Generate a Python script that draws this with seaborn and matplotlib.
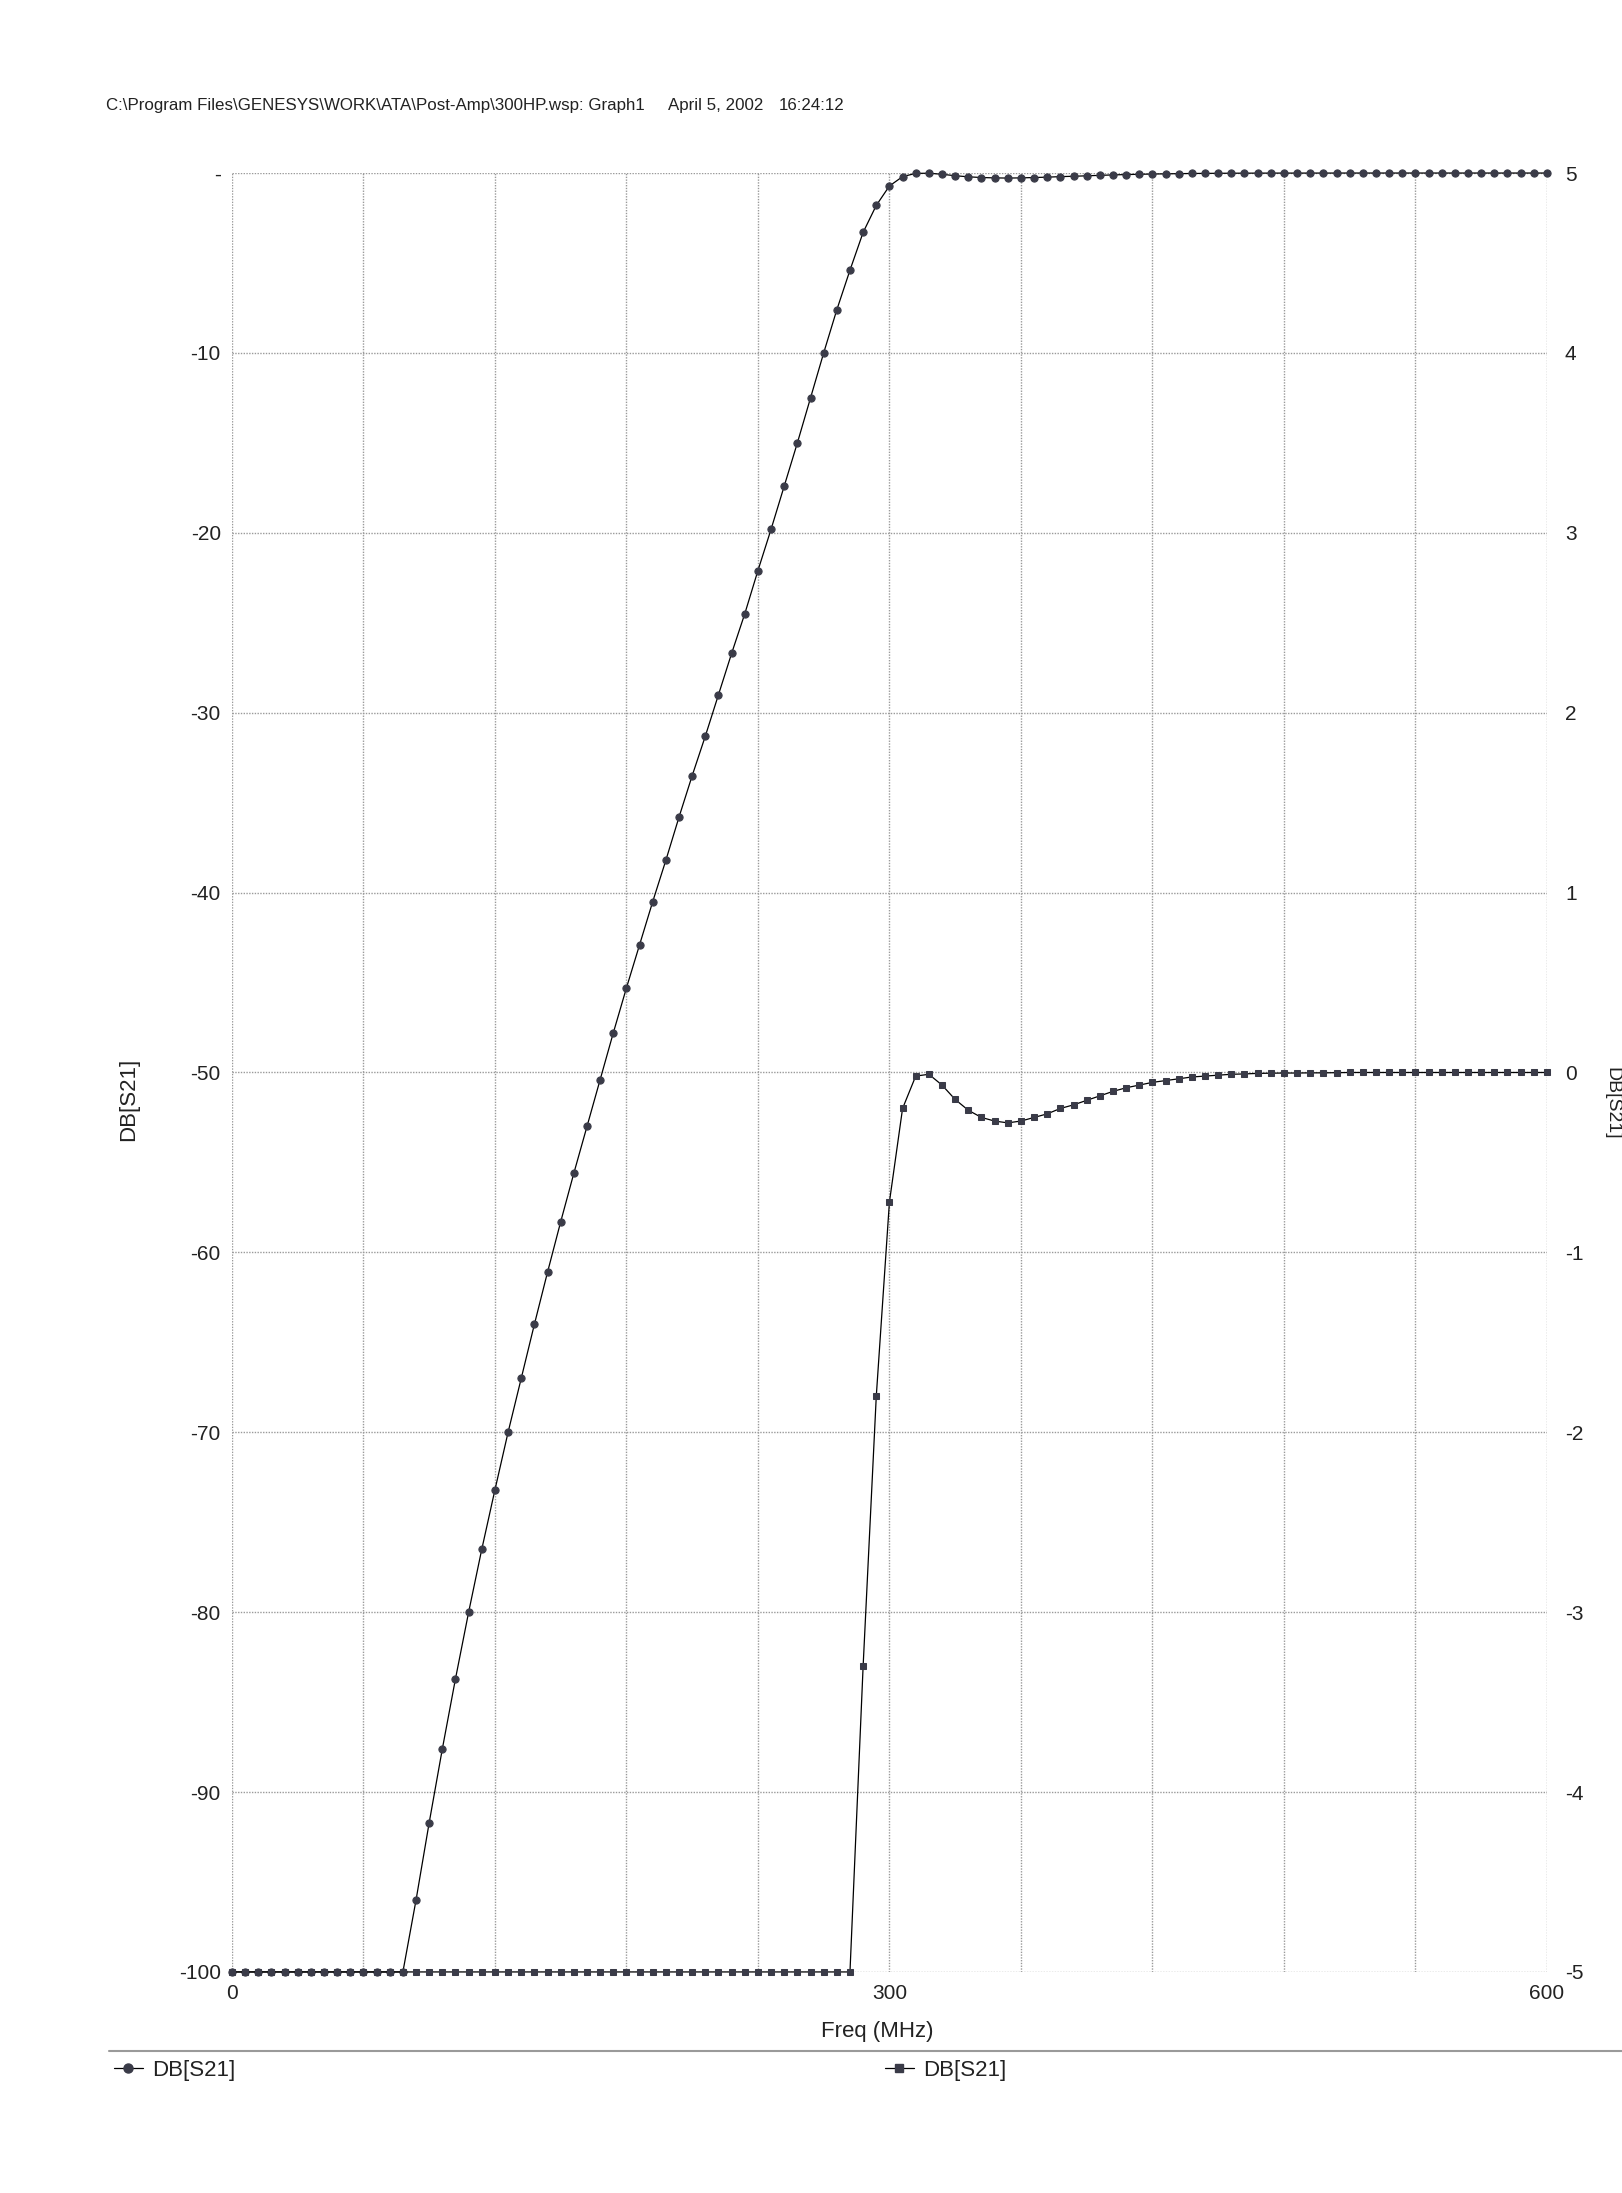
"""
GENESYS graph of the 300 MHz high-pass post-amp: DB[S21] on two scales
"""

import pandas as pd
import seaborn as sns
import matplotlib.pyplot as plt
from matplotlib.lines import Line2D

# sweep points in MHz
freq = list(range(0, 601, 6))

# DB[S21]; the values below -100 dB are estimates
# (they are clipped to the axis edge, as GENESYS does)
s21_db = [
    -300.0, -255.0, -212.0, -187.5, -170.5, -157.5, -146.8, -137.7, -129.8, -122.8,
    -116.5, -110.8, -105.5, -100.6,
    -96.0, -91.7, -87.6, -83.7, -80.0, -76.5, -73.2, -70.0, -67.0, -64.0,
    -61.1, -58.3, -55.6, -53.0, -50.4, -47.8, -45.3, -42.9, -40.5, -38.2,
    -35.8, -33.5, -31.3, -29.0, -26.7, -24.5, -22.1, -19.8, -17.4, -15.0,
    -12.5, -10.0, -7.6, -5.4, -3.3, -1.8, -0.72,
    -0.2, -0.02, -0.01, -0.07, -0.15, -0.21, -0.25, -0.27, -0.28, -0.27,
    -0.25, -0.23, -0.2, -0.18, -0.155, -0.13, -0.105, -0.085, -0.07, -0.055,
    -0.045, -0.035, -0.025, -0.02, -0.015, -0.01, -0.008, -0.005,
    -0.004, -0.003, -0.003, -0.002, -0.002, -0.001, 0.0, 0.0, 0.0, 0.0,
    0.0, 0.0, 0.0, 0.0, 0.0, 0.0, 0.0, 0.0, 0.0, 0.0, 0.0, 0.0,
]

left_ticks = [0, -10, -20, -30, -40, -50, -60, -70, -80, -90, -100]
left_labels = ["-", "-10", "-20", "-30", "-40", "-50", "-60", "-70", "-80", "-90", "-100"]
right_ticks = [5, 4, 3, 2, 1, 0, -1, -2, -3, -4, -5]
x_ticks = list(range(0, 601, 60))
x_labels = ["0", "", "", "", "", "300", "", "", "", "", "600"]

header = r"C:\Program Files\GENESYS\WORK\ATA\Post-Amp\300HP.wsp: Graph1"
header_date = "April 5, 2002"
header_time = "16:24:12"

sns.set_theme(style="white")
plt.rcParams["font.family"] = ["Liberation Sans", "DejaVu Sans"]

df = pd.DataFrame({"freq": freq, "s21": s21_db})
df["left"] = df.s21.clip(-100, 0)
df["right"] = df.s21.clip(-5, 5)

mk = "#3a3b48"
txt = "#222222"
fig = plt.figure(figsize=(16.22, 21.93), dpi=100)
ax = fig.add_axes([0.1430, 0.1008, 0.8107, 0.8203])
ax2 = ax.twinx()

sns.lineplot(
    data=df, x="freq", y="left", ax=ax, estimator=None,
    color="black", lw=0.9, marker="o", markersize=5.2,
    markerfacecolor=mk, markeredgecolor=mk, clip_on=False, zorder=3
)
sns.lineplot(
    data=df, x="freq", y="right", ax=ax2, estimator=None,
    color="black", lw=0.9, marker="s", markersize=4.6,
    markerfacecolor=mk, markeredgecolor=mk, clip_on=False, zorder=3
)

ax.set_xlim(0, 600)
ax.set_ylim(-100, 0)
ax2.set_ylim(-5, 5)

ax.set_xticks(x_ticks)
ax.set_xticklabels(x_labels)
ax.set_yticks(left_ticks)
ax.set_yticklabels(left_labels)
ax2.set_yticks(right_ticks)
ax2.set_yticklabels([str(t) for t in right_ticks])

ax.grid(True, color="#9a9a9a", lw=1.0, linestyle=(0, (1, 1)))
ax2.grid(False)
for a in (ax, ax2):
    for s in a.spines.values():
        s.set_visible(False)

ax.tick_params(axis="both", length=0, labelsize=15, colors=txt)
ax.tick_params(axis="y", pad=8)
ax.tick_params(axis="x", pad=9)
ax2.tick_params(axis="y", length=0, labelsize=15, pad=13, colors=txt)

ax.set_xlabel("Freq (MHz)", fontsize=16, color=txt)
ax.set_ylabel("DB[S21]", fontsize=16, color=txt)
ax2.set_ylabel("")
ax.xaxis.set_label_coords(0.4905, -0.0275)
ax.yaxis.set_label_coords(-0.0707, 0.4853)

# right-hand axis title, pressed against the page edge
fig.text(0.9935, 0.497, "DB[S21]", rotation=270, ha="center", va="center",
         fontsize=14, color=txt)

fig.text(0.0654, 0.9521, header, fontsize=12.2, va="center", color=txt)
fig.text(0.4118, 0.9521, header_date, fontsize=12.2, va="center", color=txt)
fig.text(0.4803, 0.9521, header_time, fontsize=12.2, va="center", color=txt)

# rule above the legend
fig.add_artist(Line2D([0.0672, 1.0], [0.0648, 0.0648], transform=fig.transFigure,
                      color="#9a9a9a", lw=1.5))

h1 = Line2D([], [], color="black", lw=0.9, marker="o", markersize=6.5,
            markerfacecolor=mk, markeredgecolor=mk)
h2 = Line2D([], [], color="black", lw=0.9, marker="s", markersize=6,
            markerfacecolor=mk, markeredgecolor=mk)
for h, x0 in ((h1, 0.0703), (h2, 0.5456)):
    fig.legend(handles=[h], labels=["DB[S21]"], loc="center left",
               bbox_to_anchor=(x0, 0.0560), frameon=False, fontsize=16,
               handlelength=1.3, handletextpad=0.4, borderpad=0,
               borderaxespad=0, labelcolor=txt)

fig.savefig("out.png", dpi=100, facecolor="white")
